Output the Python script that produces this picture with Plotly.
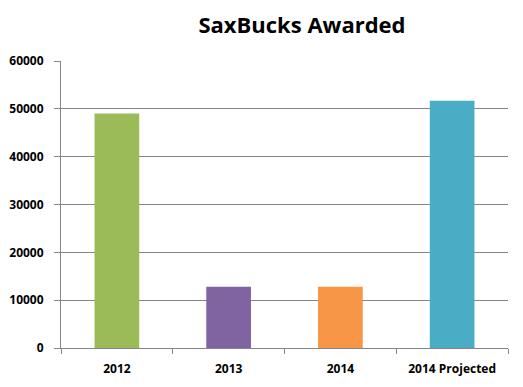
import plotly.graph_objects as go

categories = ["2012", "2013", "2014", "2014 Projected"]
values = [49000, 12800, 12800, 51700]
colors = ["#9BBB59", "#8064A2", "#F79646", "#4BACC6"]
y_ticks = [0, 10000, 20000, 30000, 40000, 50000, 60000]

fig = go.Figure(go.Bar(x=categories, y=values, marker=dict(color=colors, line=dict(width=0)), width=0.4))

fig.update_layout(
    width=523, height=387,
    margin=dict(l=61, r=15, t=61, b=39),
    paper_bgcolor="white", plot_bgcolor="white",
    showlegend=False,
    title=dict(text="<b>SaxBucks Awarded</b>", x=302/523, xanchor="center", y=1-25/387, yanchor="middle",
               font=dict(family="Open Sans", size=22, color="black")),
    font=dict(family="Open Sans", size=12, color="black"),
)
fig.update_xaxes(
    automargin=False,
    showline=True, linecolor="#868686", linewidth=1,
    ticks="outside", tickson="boundaries", ticklen=5, tickcolor="#868686",
    tickfont=dict(family="Open Sans", size=12, color="black", weight="bold"),
    ticklabelstandoff=10,
    showgrid=False,
)
fig.update_yaxes(
    automargin=False,
    range=[0, 60000], tickvals=y_ticks, ticktext=[str(v) for v in y_ticks],
    showline=True, linecolor="#868686", linewidth=1,
    ticks="outside", ticklen=6, tickcolor="#868686",
    showgrid=True, gridcolor="#868686", gridwidth=1,
    tickfont=dict(family="Open Sans", size=12, color="black", weight="bold"),
    ticklabelstandoff=8,
    zeroline=False,
)
fig.write_html("out.html")
